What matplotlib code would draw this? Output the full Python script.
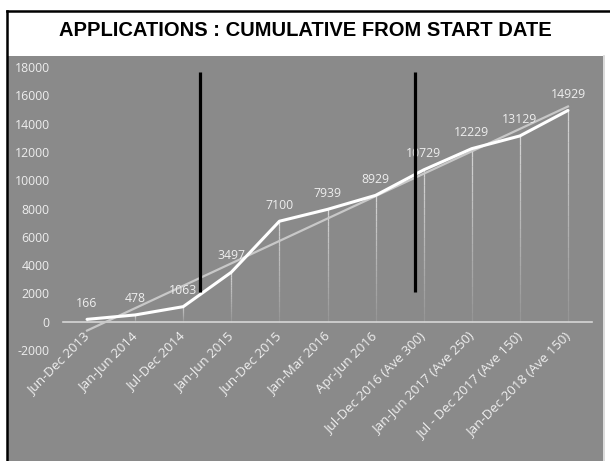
import numpy as np
import matplotlib
matplotlib.use("Agg")
import matplotlib.pyplot as plt
from matplotlib.lines import Line2D
from matplotlib.patches import Rectangle
from matplotlib.collections import LineCollection

# data
periods = [
    "Jun-Dec 2013", "Jan-Jun 2014", "Jul-Dec 2014", "Jan-Jun 2015",
    "Jun-Dec 2015", "Jan-Mar 2016", "Apr-Jun 2016", "Jul-Dec 2016 (Ave 300)",
    "Jan-Jun 2017 (Ave 250)", "Jul - Dec 2017 (Ave 150)", "Jan-Dec 2018 (Ave 150)",
]
cumulative = [166, 478, 1063, 3497, 7100, 7939, 8929, 10729, 12229, 13129, 14929]
y_ticks = [-2000, 0, 2000, 4000, 6000, 8000, 10000, 12000, 14000, 16000, 18000]
# black marker bars drawn on the slide (category position, from, to)
marker_x = [2.35, 6.82]
marker_y = (2100, 17650)

W, H = 610, 461
BG = "#8a8a8a"
TXT = "#eeeeee"
FONT = "Open Sans"

fig = plt.figure(figsize=(W / 100, H / 100), dpi=100)
fig.patch.set_facecolor("white")

# gray panel + slide border
fig.patches.append(Rectangle((8 / W, 0), (603 - 8) / W, (H - 56) / H,
                             transform=fig.transFigure, facecolor=BG, edgecolor="none", zorder=-5))
fig.lines.append(Line2D([603.5 / W, 603.5 / W], [0, (H - 56) / H], transform=fig.transFigure,
                        color="#d4d4d4", lw=1.2, zorder=-4))
fig.lines.append(Line2D([7 / W, 1], [1 - 11 / H, 1 - 11 / H], transform=fig.transFigure,
                        color="black", lw=1.8, zorder=-4))
fig.lines.append(Line2D([7 / W, 7 / W], [0, 1 - 11 / H], transform=fig.transFigure,
                        color="black", lw=1.8, zorder=-4))

fig.text(0.5, 1 - 30 / H, "APPLICATIONS : CUMULATIVE FROM START DATE",
         ha="center", va="center", fontsize=14.5, fontweight="bold",
         family="Liberation Sans", color="black")

ax = fig.add_axes([63 / W, (H - 350) / H, (592 - 63) / W, (350 - 67) / H])
ax.set_facecolor("none")
x = np.arange(len(periods))
y = np.array(cumulative)

ax.set_xlim(-0.5, len(periods) - 0.5)
ax.set_ylim(-2000, 18000)

# drop lines fading towards the axis
segs, cols = [], []
n = 20
for xi, yi in zip(x, y):
    levels = np.linspace(yi, 0, n + 1)
    for k in range(n):
        segs.append([(xi, levels[k]), (xi, levels[k + 1])])
        cols.append((1, 1, 1, 0.55 * (1 - k / n) + 0.08))
ax.add_collection(LineCollection(segs, colors=cols, linewidths=0.9, zorder=2))

# linear trendline
coef = np.polyfit(x, y, 1)
ax.plot(x, np.polyval(coef, x), color="#c8c8c8", lw=1.6, zorder=3)

ax.plot(x, y, color="white", lw=2.2, zorder=4, solid_capstyle="round")

for xi, yi in zip(x, y):
    ax.annotate(f"{yi}", (xi, yi), xytext=(0, 7), textcoords="offset points",
                ha="center", va="bottom", color=TXT, fontsize=8.8, family=FONT, zorder=5)

for mx in marker_x:
    ax.plot([mx, mx], marker_y, color="black", lw=2.3, zorder=6, solid_capstyle="butt")

for s in ["left", "right", "top"]:
    ax.spines[s].set_visible(False)
ax.spines["bottom"].set_position(("data", 0))
ax.spines["bottom"].set_color("#d6d6d6")
ax.spines["bottom"].set_linewidth(1.2)
ax.tick_params(axis="both", length=0, colors=TXT, labelsize=8.8)
ax.tick_params(axis="y", pad=9.5)
ax.tick_params(axis="x", pad=9, labelrotation=45, labelsize=9.6)

ax.set_yticks(y_ticks)
ax.set_yticklabels([str(v) for v in y_ticks])
ax.set_xticks(x)
ax.set_xticklabels(periods)
for lab in ax.get_xticklabels():
    lab.set_rotation(45)
    lab.set_ha("right")
    lab.set_va("center")
    lab.set_rotation_mode("anchor")
for lab in ax.get_xticklabels() + ax.get_yticklabels():
    lab.set_family(FONT)

fig.savefig("out.png", dpi=100)
